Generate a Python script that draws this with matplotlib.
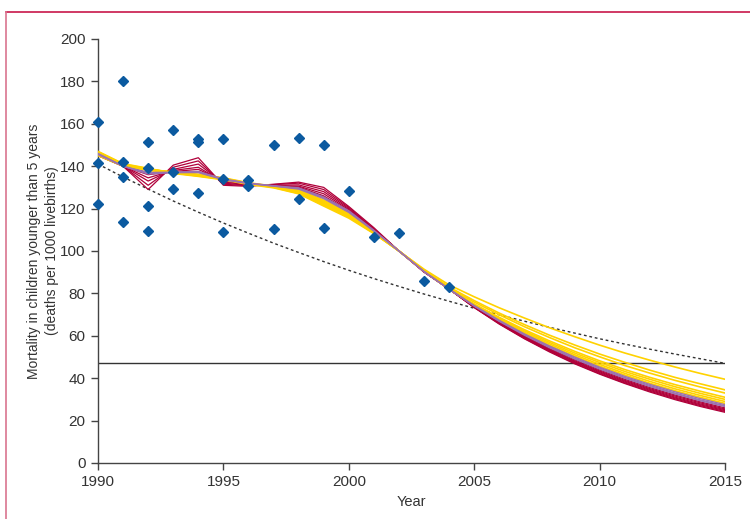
import numpy as np
import matplotlib.pyplot as plt
from matplotlib.lines import Line2D

years = np.arange(1990, 2016)

# survey observations (year, under-5 mortality)
obs_year = [1990, 1990, 1990, 1991, 1991, 1991, 1991, 1992, 1992, 1992, 1992,
            1993, 1993, 1993, 1994, 1994, 1994, 1995, 1995, 1995, 1996, 1996,
            1997, 1997, 1998, 1998, 1999, 1999, 2000, 2001, 2002, 2003, 2004]
obs_value = [161, 141.5, 122, 180, 142, 135, 113.5, 151.3, 139.3, 121, 109.6,
             157, 137.1, 129.2, 153, 151.3, 127.2, 153, 134, 108.8, 133.5, 130.8,
             150, 110.2, 153.1, 124.4, 150, 111, 128.3, 106.7, 108.5, 85.8, 83]

# MDG target path (dotted) and target level
target_path = [141, 134.9, 129.2, 123.6, 118.3, 113.2, 108.4, 103.7, 99.3, 95.0,
               90.9, 87.0, 83.3, 79.7, 76.3, 73.0, 69.9, 66.9, 64.0, 61.3,
               58.6, 56.1, 53.7, 51.4, 49.2, 47.0]
target_level = 47

# fitted / projected curves, 1990-2015
crimson_runs = [
    [145.0, 140, 129.0, 140.5, 144.0, 131.0, 130.5, 131.5, 132.5, 130.0, 121.0, 111.0, 100, 90.5, 82,
     73.3, 65.5, 58.6, 52.4, 46.8, 41.9, 37.5, 33.5, 29.9, 26.7, 23.9],
    [145.0, 140, 131.0, 139.5, 142.5, 131.5, 130.8, 131.3, 132.0, 129.0, 120.5, 110.5, 100, 90.3, 82,
     73.4, 65.7, 58.8, 52.7, 47.1, 42.2, 37.8, 33.9, 30.3, 27.1, 24.3],
    [145.3, 140, 133.0, 138.5, 141.0, 132.0, 131.0, 131.0, 131.2, 128.0, 120.0, 110.3, 100, 90.2, 82,
     73.5, 65.9, 59.1, 53.0, 47.5, 42.6, 38.2, 34.3, 30.7, 27.5, 24.7],
    [145.5, 140, 134.5, 138.0, 139.5, 132.5, 131.2, 130.8, 130.6, 127.0, 119.5, 110.0, 100, 90.2, 82,
     73.6, 66.1, 59.3, 53.3, 47.8, 43.0, 38.6, 34.7, 31.1, 27.9, 25.1],
    [145.6, 140, 136.0, 137.5, 138.5, 133.0, 131.4, 130.7, 130.2, 126.0, 119.0, 109.8, 100, 90.1, 82,
     73.7, 66.3, 59.6, 53.6, 48.2, 43.4, 39.0, 35.1, 31.6, 28.4, 25.5],
    [145.8, 140, 137.0, 137.2, 137.5, 133.5, 131.6, 130.6, 129.8, 125.5, 118.8, 109.6, 100, 90.0, 82,
     73.9, 66.6, 60.0, 54.0, 48.7, 43.9, 39.5, 35.6, 32.1, 28.9, 26.0],
]
purple_runs = [
    [145.5, 140, 137.0, 137.2, 137.5, 134.0, 132.0, 130.8, 129.8, 125.5, 119.0, 109.8, 100, 90.3, 82,
     74.0, 66.8, 60.3, 54.4, 49.1, 44.3, 40.0, 36.1, 32.6, 29.4, 26.6],
    [145.8, 140, 136.6, 137.0, 137.2, 133.8, 131.9, 130.7, 129.5, 125.0, 118.5, 109.5, 100, 90.3, 82,
     74.1, 67.0, 60.6, 54.8, 49.5, 44.8, 40.4, 36.6, 33.0, 29.8, 27.0],
    [146.0, 140, 136.3, 137.0, 137.0, 133.6, 131.8, 130.6, 129.2, 124.7, 118.2, 109.4, 100, 90.3, 82,
     74.3, 67.3, 60.9, 55.2, 50.0, 45.2, 40.9, 37.1, 33.6, 30.4, 27.5],
]
yellow_runs = [
    [145.0, 140.0, 138.5, 137.3, 136.2, 134.5, 132.2, 130.6, 128.8, 124.0, 118.0, 109.3, 100, 90.5, 82,
     74.4, 67.5, 61.2, 55.5, 50.4, 45.7, 41.5, 37.6, 34.1, 31.0, 28.1],
    [145.5, 140.2, 138.3, 137.1, 136.0, 134.3, 132.0, 130.5, 128.4, 123.5, 117.5, 109.0, 100, 90.5, 82,
     74.6, 67.9, 61.7, 56.2, 51.1, 46.5, 42.3, 38.5, 35.0, 31.9, 29.0],
    [146.0, 140.5, 138.0, 137.0, 135.8, 134.2, 132.0, 130.4, 128.0, 123.0, 117.0, 108.8, 100, 90.6, 82,
     74.8, 68.3, 62.3, 56.9, 51.9, 47.4, 43.2, 39.5, 36.0, 32.9, 30.0],
    [146.3, 140.6, 138.2, 137.2, 135.6, 134.0, 131.8, 130.3, 127.8, 122.5, 116.5, 108.6, 100, 90.6, 82,
     75.0, 68.7, 62.9, 57.6, 52.7, 48.2, 44.1, 40.4, 37.0, 33.9, 31.0],
    [146.6, 140.8, 138.6, 137.0, 135.5, 134.0, 131.8, 130.2, 127.5, 122.0, 116.2, 108.5, 100, 90.8, 82.5,
     75.9, 69.9, 64.3, 59.2, 54.4, 50.1, 46.0, 42.4, 39.0, 35.9, 33.0],
    [146.8, 141.0, 138.8, 136.8, 135.4, 133.8, 131.6, 130.0, 127.2, 121.6, 116.0, 108.4, 100, 91.0, 83,
     76.6, 70.7, 65.3, 60.3, 55.7, 51.4, 47.5, 43.8, 40.4, 37.4, 34.5],
    [147.0, 141.2, 139.0, 136.6, 135.2, 133.6, 131.4, 129.8, 127.0, 121.2, 115.5, 108.2, 100, 91.4, 84,
     78.4, 73.2, 68.4, 63.8, 59.6, 55.6, 51.9, 48.5, 45.3, 42.3, 39.5],
]

plt.rcParams['font.family'] = ['Liberation Sans', 'DejaVu Sans']

fig = plt.figure(figsize=(7.5, 5.19), dpi=100)
ax = fig.add_axes([98 / 750, 1 - 463 / 519, 627 / 750, 424 / 519])

for run in crimson_runs:
    ax.plot(years, run, color='#b0003a', lw=0.9, zorder=2)
for run in yellow_runs:
    ax.plot(years, run, color='#ffd200', lw=1.2, zorder=3)
for run in purple_runs:
    ax.plot(years, run, color='#9b72b0', lw=1.0, zorder=3.5)

ax.plot(years, target_path, color='#333333', lw=1, ls=(0, (2, 2)), zorder=1)
ax.plot([years[0], years[-1]], [target_level, target_level], color='#333333', lw=1, zorder=1)

ax.plot(obs_year, obs_value, ls='none', marker='D', ms=5.5, color='#0b5aa0',
        mec='#0b5aa0', zorder=5, clip_on=False)

ax.set_xlim(1990, 2015)
ax.set_ylim(0, 200)
ax.set_xticks(range(1990, 2016, 5))
ax.set_yticks(range(0, 201, 20))
for side in ['top', 'right']:
    ax.spines[side].set_visible(False)
for side in ['left', 'bottom']:
    ax.spines[side].set_color('#444444')
    ax.spines[side].set_linewidth(1)
ax.tick_params(direction='out', length=5, width=1, color='#444444',
               labelsize=11, labelcolor='#333333', pad=4)

ax.set_xlabel('Year', fontsize=10.5, color='#333333', labelpad=4)
ax.set_ylabel('Mortality in children younger than 5 years\n(deaths per 1000 livebirths)',
              fontsize=10, color='#333333', labelpad=1, linespacing=1.3)

# frame lines around the panel
fig.add_artist(Line2D([6 / 750, 1], [1 - 12 / 519] * 2, color='#c8174a', lw=1.2))
fig.add_artist(Line2D([6 / 750] * 2, [0, 1 - 12 / 519], color='#d9748f', lw=1.2))

fig.savefig('out.png', dpi=100)
